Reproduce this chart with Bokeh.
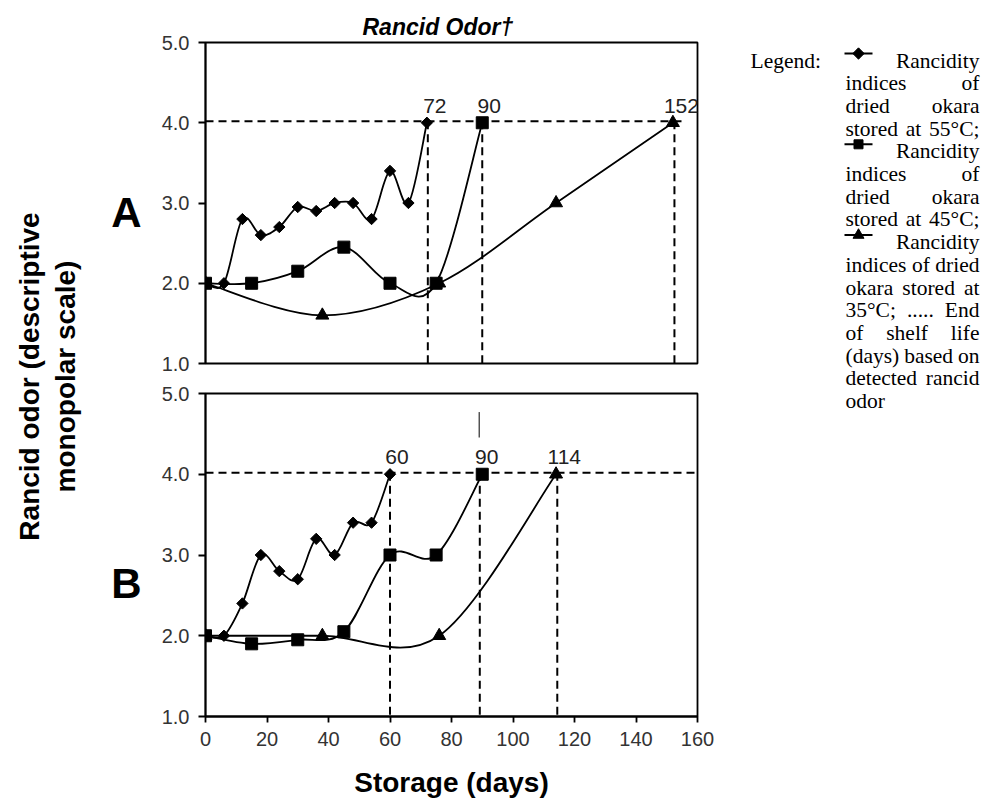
import numpy as np
from bokeh.plotting import figure
from bokeh.layouts import row, column
from bokeh.models import Range1d, FixedTicker, PrintfTickFormatter, Label, Title
from bokeh.core.properties import value
from bokeh.embed import file_html
from bokeh.resources import INLINE

# ---------------- data ----------------
days_55_A = [0, 6, 12, 18, 24, 30, 36, 42, 48, 54, 60, 66, 72]
odor_55_A = [2.0, 2.0, 2.8, 2.6, 2.7, 2.95, 2.9, 3.0, 3.0, 2.8, 3.4, 3.0, 4.0]
days_45_A = [0, 15, 30, 45, 60, 75, 90]
odor_45_A = [2.0, 2.0, 2.15, 2.45, 2.0, 2.0, 4.0]
days_35_A = [0, 38, 76, 114, 152]
odor_35_A = [2.0, 1.6, 2.0, 3.0, 4.0]

days_55_B = [0, 6, 12, 18, 24, 30, 36, 42, 48, 54, 60]
odor_55_B = [2.0, 2.0, 2.4, 3.0, 2.8, 2.7, 3.2, 3.0, 3.4, 3.4, 4.0]
days_45_B = [0, 15, 30, 45, 60, 75, 90]
odor_45_B = [2.0, 1.9, 1.95, 2.05, 3.0, 3.0, 4.0]
days_35_B = [0, 38, 76, 114]
odor_35_B = [2.0, 2.0, 2.0, 4.0]

shelf_A = [72.3, 90.0, 152.5]
shelf_A_labels = ["72", "90", "152"]
shelf_B = [60.0, 89.2, 114.4]
shelf_B_labels = ["60", "90", "114"]
threshold = 4.02
threshold_end_A = 155.5
threshold_end_B = 160.0
stray_B_x = [89.0]
stray_B_y0 = [4.455]
stray_B_y1 = [4.77]

x_ticks = [0, 20, 40, 60, 80, 100, 120, 140, 160]
y_ticks = [1, 2, 3, 4, 5]

title_text = "Rancid Odor\u2020"
y_title = ["Rancid odor (descriptive", "monopolar scale)"]
x_title = "Storage (days)"
panel_letters = ["A", "B"]
legend_lines = [
    ("Rancidity", "diamond"), "indices of", "dried okara", "stored at 55\u00b0C;",
    ("Rancidity", "square"), "indices of", "dried okara", "stored at 45\u00b0C;",
    ("Rancidity", "triangle"), "indices of dried", "okara stored at",
    "35\u00b0C; ..... End", "of shelf life", "(days) based on", "detected rancid", "odor",
]

SANS = "Liberation Sans"
SERIF = "Liberation Serif"
H = 800
LW = 1.8


def smooth(xs, ys):
    x = np.asarray(xs, float)
    y = np.asarray(ys, float)
    n = len(x)
    xp = np.concatenate([[x[0]], x, [x[-1]]])
    yp = np.concatenate([[y[0]], y, [y[-1]]])
    return dict(
        x0=x[:-1], y0=y[:-1], x1=x[1:], y1=y[1:],
        cx0=x[:-1] + (xp[2:n + 1] - xp[0:n - 1]) / 6.0,
        cy0=y[:-1] + (yp[2:n + 1] - yp[0:n - 1]) / 6.0,
        cx1=x[1:] - (xp[3:n + 2] - xp[1:n]) / 6.0,
        cy1=y[1:] - (yp[3:n + 2] - yp[1:n]) / 6.0,
    )


def panel(height, top_b, bot_b, show_x):
    p = figure(width=577, height=height, x_range=Range1d(0, 160), y_range=Range1d(1, 5),
               output_backend="svg", toolbar_location=None,
               x_axis_location="below" if show_x else None, y_axis_location="left",
               min_border_left=55, min_border_right=30,
               min_border_top=top_b, min_border_bottom=bot_b)
    p.grid.grid_line_color = None
    p.outline_line_color = "black"
    p.outline_line_width = LW
    p.background_fill_color = "white"
    p.border_fill_color = "white"
    ya = p.yaxis[0]
    ya.ticker = FixedTicker(ticks=y_ticks)
    ya.formatter = PrintfTickFormatter(format="%.1f")
    ya.minor_tick_line_color = None
    ya.major_tick_in = 0
    ya.major_tick_out = 7
    ya.major_label_standoff = 9
    ya.axis_line_width = LW
    ya.major_tick_line_width = LW
    ya.major_label_text_font = SANS
    ya.major_label_text_font_size = "20px"
    ya.major_label_text_color = "#333333"
    if show_x:
        xa = p.xaxis[0]
        xa.ticker = FixedTicker(ticks=x_ticks)
        xa.minor_tick_line_color = None
        xa.major_tick_in = 0
        xa.major_tick_out = 6
        xa.major_label_standoff = 9
        xa.axis_line_width = LW
        xa.major_tick_line_width = LW
        xa.major_label_text_font = SANS
        xa.major_label_text_font_size = "20px"
        xa.major_label_text_color = "#333333"
        xa.axis_label = x_title
        xa.axis_label_text_font = SANS
        xa.axis_label_text_font_size = "28px"
        xa.axis_label_text_font_style = "bold"
        xa.axis_label_text_color = "black"
        xa.axis_label_standoff = 18
    return p


def draw(p, series, shelf, shelf_labels, thr_end):
    dash = "8 5"
    p.segment(x0=[0], y0=[threshold], x1=[thr_end], y1=[threshold],
              line_color="black", line_width=2, line_dash=dash)
    p.segment(x0=shelf, y0=[threshold] * len(shelf), x1=shelf, y1=[0.9] * len(shelf),
              line_color="black", line_width=2, line_dash=dash)
    for xs, ys, mk in series:
        p.bezier(line_color="black", line_width=LW, **smooth(xs, ys))
    for xs, ys, mk in series:
        if mk == "diamond":
            p.scatter(xs, ys, marker="square", angle=np.pi / 4, size=8,
                      fill_color="black", line_color="black")
        elif mk == "square":
            p.scatter(xs, ys, marker="square", size=12, fill_color="black", line_color="black")
        else:
            p.scatter(xs, ys, marker="triangle", size=13, fill_color="black", line_color="black")
    p.text(x=shelf, y=[4.0] * len(shelf), text=shelf_labels, x_offset=7, y_offset=-10,
           text_align="center", text_baseline="bottom",
           text_font=value(SANS), text_font_size="21px", text_color="#222222")


top = panel(378, 42, 15, False)
draw(top, [(days_55_A, odor_55_A, "diamond"), (days_45_A, odor_45_A, "square"),
           (days_35_A, odor_35_A, "triangle")],
     shelf_A, shelf_A_labels, threshold_end_A)
top.title = Title(text=title_text, align="left", offset=157, standoff=6,
                  text_font=SANS, text_font_size="23px", text_font_style="bold italic",
                  text_color="black")

bot = panel(H - 378, 15, 84, True)
draw(bot, [(days_55_B, odor_55_B, "diamond"), (days_45_B, odor_45_B, "square"),
           (days_35_B, odor_35_B, "triangle")],
     shelf_B, shelf_B_labels, threshold_end_B)
bot.segment(x0=stray_B_x, y0=stray_B_y0, x1=stray_B_x, y1=stray_B_y1,
            line_color="black", line_width=1)


def side(width, x0, x1):
    f = figure(width=width, height=H, x_range=Range1d(x0, x1), y_range=Range1d(H, 0),
               output_backend="svg", toolbar_location=None,
               x_axis_location=None, y_axis_location=None, min_border=0)
    f.grid.grid_line_color = None
    f.outline_line_color = None
    f.border_fill_color = "white"
    f.background_fill_color = "white"
    return f


left = side(150, 0, 150)
for i, t in enumerate(y_title):
    left.add_layout(Label(x=29 + 36 * i, y=376, text=t, angle=np.pi / 2, text_align="center",
                          text_baseline="middle", text_font=SANS, text_font_size="28px",
                          text_font_style="bold", text_color="black"))
for letter, ly in zip(panel_letters, [212, 583]):
    left.add_layout(Label(x=126, y=ly, text=letter, text_align="center",
                          text_baseline="middle", text_font=SANS, text_font_size="42px",
                          text_font_style="bold", text_color="black"))

right = side(262, 727, 989)
TW = {'a': .444, 'b': .5, 'c': .444, 'd': .5, 'e': .444, 'f': .333, 'g': .5, 'h': .5,
      'i': .278, 'k': .5, 'l': .278, 'n': .5, 'o': .5, 'p': .5, 'r': .333, 's': .389,
      't': .278, 'y': .5, 'E': .611, 'R': .667, 'C': .667, '\u00b0': .4, ';': .278,
      '.': .25, '(': .333, ')': .333, ' ': .25}
FS = 21.5


def tw(s):
    return sum(TW.get(c, .5) for c in s) * FS


XL, XR = 845, 979
base0, pitch = 60, 22.7
right.add_layout(Label(x=750, y=base0, text="Legend:", text_font=SERIF,
                       text_font_size=f"{FS}px", text_baseline="alphabetic", text_color="black"))
for i, item in enumerate(legend_lines):
    yb = base0 + i * pitch
    if isinstance(item, tuple):
        word, mk = item
        right.line([844, 872], [yb - 7, yb - 7], line_color="black", line_width=2)
        if mk == "diamond":
            right.scatter([858], [yb - 7], marker="square", angle=np.pi / 4, size=8,
                          fill_color="black", line_color="black")
        elif mk == "square":
            right.scatter([858], [yb - 7], marker="square", size=9,
                          fill_color="black", line_color="black")
        else:
            right.scatter([858], [yb - 7], marker="triangle", size=11,
                          fill_color="black", line_color="black")
        right.add_layout(Label(x=XR, y=yb, text=word, text_align="right", text_font=SERIF,
                               text_font_size=f"{FS}px", text_baseline="alphabetic",
                               text_color="black"))
        continue
    words = item.split()
    if len(words) == 1 or i == len(legend_lines) - 1:
        right.add_layout(Label(x=XL, y=yb, text=item, text_font=SERIF,
                               text_font_size=f"{FS}px", text_baseline="alphabetic",
                               text_color="black"))
        continue
    widths = [tw(w) for w in words]
    gap = (XR - XL - sum(widths)) / (len(words) - 1)
    xpos = XL
    for w, wd in zip(words, widths):
        right.add_layout(Label(x=xpos, y=yb, text=w, text_font=SERIF,
                               text_font_size=f"{FS}px", text_baseline="alphabetic",
                               text_color="black"))
        xpos += wd + gap

layout = row(left, column(top, bot), right)
open("out.html", "w").write(file_html(layout, INLINE))
